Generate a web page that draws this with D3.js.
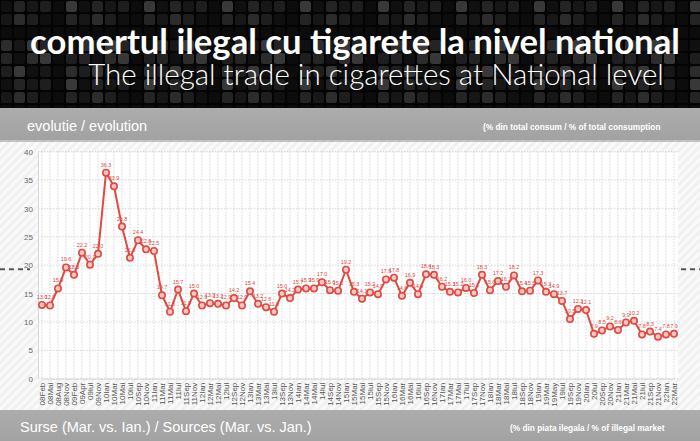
<!DOCTYPE html>
<html>
<head>
<meta charset="utf-8">
<script src="https://cdn.jsdelivr.net/npm/d3@7"></script>
<style>
  html, body { margin: 0; padding: 0; background: #fff; }
  svg { display: block; }
</style>
</head>
<body>
<svg id="chart" width="700" height="441"></svg>
<script>
// periods (YYMon, romanian month names as in the source)
var periods = ['08Feb','08Mai','08Aug','08Nov','09Feb','09Apr','09Iul','09Nov',
  '10Ian','10Mar','10Mai','10Iul','10Sep','10Nov','11Ian','11Mar','11Mai','11Iul',
  '11Sep','11Nov','12Ian','12Mar','12Mai','12Iul','12Sep','12Nov','13Ian','13Mar',
  '13Mai','13Iul','13Sep','13Nov','14Ian','14Mar','14Mai','14Iul','14Sep','14Nov',
  '15Ian','15Mar','15Mai','15Iul','15Sep','15Nov','16Ian','16Mar','16Mai','16Iul',
  '16Sep','16Nov','17Ian','17Mar','17Mai','17Iul','17Sep','17Nov','18Ian','18Mar',
  '18Mai','18Iul','18Sep','18Nov','19Ian','19Mar','19May','19Iul','19Sep','19Nov',
  '20Ian','20Iul','20Sep','20Nov','21Ian','21Mar','21Mai','21Iul','21Sep','21Nov',
  '22Ian','22Mar'];

// illegal share, % of total consumption
var share = [13.0,12.9,15.9,19.6,18.3,22.2,20.1,22.0,
  36.3,33.9,26.8,21.3,24.4,22.8,22.5,14.7,11.8,15.7,
  11.9,15.0,12.9,13.3,13.2,12.9,14.2,12.9,15.4,13.2,
  12.6,11.8,15.0,14.2,15.7,15.9,15.9,17.0,15.6,15.5,
  19.2,15.3,14.1,15.2,14.9,17.5,17.8,14.6,16.9,14.9,
  18.4,18.3,16.2,15.3,15.2,16.0,15.1,18.3,15.6,17.2,
  16.2,18.2,15.4,15.5,17.3,15.3,14.9,13.7,10.5,12.3,
  12.1,7.9,8.5,9.2,8.6,9.9,10.2,7.8,8.3,7.4,
  7.8,7.9];

var yTicks = [0, 5, 10, 15, 20, 25, 30, 35, 40];
var refLevel = 19.3;   // the dashed marks on both sides

var titleRo = 'comertul ilegal cu tigarete la nivel national';
var titleEn = 'The illegal trade in cigarettes at National level';
var bandTop = 'evolutie / evolution';
var bandTopNote = '(% din total consum / % of total consumption';
var bandBottom = 'Surse (Mar. vs. Ian.) / Sources (Mar. vs. Jan.)';
var bandBottomNote = '(% din piata ilegala / % of illegal market';

var W = 700, H = 441;
var svg = d3.select('#chart');
var defs = svg.append('defs');

// dark mosaic for the header
var cell = 13, n = 6;
var mos = defs.append('pattern')
  .attr('id', 'mosaic')
  .attr('patternUnits', 'userSpaceOnUse')
  .attr('width', cell * n).attr('height', cell * n);
mos.append('rect').attr('width', cell * n).attr('height', cell * n).attr('fill', '#040404');
var shades = ['#101010', '#1e1e1e', '#2c2c2c', '#171717', '#383838', '#242424', '#0c0c0c'];
d3.range(n).forEach(function(i) {
  d3.range(n).forEach(function(j) {
    mos.append('rect')
      .attr('x', i * cell + 1).attr('y', j * cell + 1)
      .attr('width', cell - 2).attr('height', cell - 2).attr('rx', 2.5)
      .attr('fill', shades[(i * 5 + j * 3 + i * j) % shades.length]);
  });
});

// light diagonal hatch behind the chart
var hatch = defs.append('pattern')
  .attr('id', 'hatch')
  .attr('patternUnits', 'userSpaceOnUse')
  .attr('width', 6).attr('height', 6)
  .attr('patternTransform', 'rotate(45)');
hatch.append('rect').attr('width', 6).attr('height', 6).attr('fill', '#f1f1f1');
hatch.append('rect').attr('width', 3).attr('height', 6).attr('fill', '#fafafa');

var bandGrad = defs.append('linearGradient')
  .attr('id', 'band').attr('x1', 0).attr('y1', 0).attr('x2', 0).attr('y2', 1);
bandGrad.append('stop').attr('offset', '0%').attr('stop-color', '#adadad');
bandGrad.append('stop').attr('offset', '100%').attr('stop-color', '#a2a2a2');

// header
svg.append('rect').attr('width', W).attr('height', 108).attr('fill', 'url(#mosaic)');

function fitText(sel, width) {
  var len = sel.node().getComputedTextLength();
  var fs = parseFloat(sel.attr('font-size'));
  sel.attr('font-size', fs * width / len);
}

var t1 = svg.append('text')
  .attr('x', 355).attr('y', 54)
  .attr('text-anchor', 'middle')
  .attr('font-family', 'Lato, "Open Sans", sans-serif')
  .attr('font-weight', 700)
  .attr('font-size', 28)
  .attr('fill', '#fff')
  .text(titleRo);
fitText(t1, 650);

var t2 = svg.append('text')
  .attr('x', 376).attr('y', 85)
  .attr('text-anchor', 'middle')
  .attr('font-family', 'Lato, "Open Sans", sans-serif')
  .attr('font-weight', 300)
  .attr('font-size', 26)
  .attr('fill', '#fff')
  .text(titleEn);
fitText(t2, 576);

// chart background
svg.append('rect').attr('y', 108).attr('width', W).attr('height', 303).attr('fill', 'url(#hatch)');

// grey bands
svg.append('rect').attr('y', 108).attr('width', W).attr('height', 32).attr('fill', 'url(#band)');
svg.append('rect').attr('y', 140).attr('width', W).attr('height', 2).attr('fill', '#8f8f8f').attr('opacity', 0.5);
svg.append('text')
  .attr('x', 27).attr('y', 131)
  .attr('font-family', '"Liberation Sans", Arial, sans-serif')
  .attr('font-size', 14.5).attr('fill', '#fff')
  .text(bandTop);
svg.append('text')
  .attr('x', 483).attr('y', 130)
  .attr('font-family', '"Liberation Sans", Arial, sans-serif')
  .attr('font-weight', 700)
  .attr('font-size', 8.3).attr('fill', '#fff')
  .text(bandTopNote);

svg.append('rect').attr('y', 410).attr('width', W).attr('height', 31).attr('fill', 'url(#band)');
svg.append('text')
  .attr('x', 20).attr('y', 432)
  .attr('font-family', '"Liberation Sans", Arial, sans-serif')
  .attr('font-size', 14.5).attr('fill', '#fff')
  .text(bandBottom);
svg.append('text')
  .attr('x', 510).attr('y', 431)
  .attr('font-family', '"Liberation Sans", Arial, sans-serif')
  .attr('font-weight', 700)
  .attr('font-size', 8.3).attr('fill', '#fff')
  .text(bandBottomNote);

// scales
var x = d3.scalePoint().domain(periods).range([42, 674]);
var y = d3.scaleLinear().domain([0, 40]).range([378.7, 151.7]);

// plot area
svg.append('rect')
  .attr('x', 38).attr('y', y(40))
  .attr('width', 678 - 38).attr('height', y(0) - y(40))
  .attr('fill', '#fff');

var grid = svg.append('g').attr('class', 'grid')
  .attr('stroke', '#cacaca').attr('stroke-width', 0.8)
  .attr('stroke-dasharray', '1.5,1.5');
grid.selectAll('line.v').data(periods).enter().append('line')
  .attr('class', 'v')
  .attr('x1', function(d) { return x(d); }).attr('x2', function(d) { return x(d); })
  .attr('y1', y(40)).attr('y2', y(0));
grid.selectAll('line.h').data(yTicks).enter().append('line')
  .attr('class', 'h')
  .attr('x1', 38).attr('x2', 678)
  .attr('y1', function(d) { return y(d); }).attr('y2', function(d) { return y(d); });

// axes
var yAxis = svg.append('g')
  .attr('transform', 'translate(38,0)')
  .call(d3.axisLeft(y).tickValues(yTicks).tickSize(0).tickPadding(5));
yAxis.select('.domain').attr('stroke', '#d8d8d8');
yAxis.selectAll('text')
  .attr('font-family', '"Liberation Sans", Arial, sans-serif')
  .attr('font-size', 8).attr('fill', '#666');

var xAxis = svg.append('g')
  .attr('transform', 'translate(0,' + y(0) + ')')
  .call(d3.axisBottom(x).tickSize(0).tickPadding(4));
xAxis.select('.domain').attr('stroke', '#d8d8d8');
xAxis.selectAll('text')
  .attr('font-family', '"Liberation Sans", Arial, sans-serif')
  .attr('font-size', 8).attr('fill', '#555')
  .attr('text-anchor', 'end')
  .attr('dy', '0.32em')
  .attr('transform', 'translate(-4,0) rotate(-90)')
  .attr('x', -4).attr('y', 4);

// reference dashes outside the plot
var refG = svg.append('g')
  .attr('stroke', '#555').attr('stroke-width', 2).attr('stroke-dasharray', '5,4');
refG.append('line').attr('x1', 0).attr('x2', 30)
  .attr('y1', y(refLevel)).attr('y2', y(refLevel));
refG.append('line').attr('x1', 681).attr('x2', 700)
  .attr('y1', y(refLevel)).attr('y2', y(refLevel));

// series
var pts = periods.map(function(p, i) { return { p: p, v: share[i] }; });
var red = '#e04a42';

svg.append('path')
  .datum(pts)
  .attr('fill', 'none')
  .attr('stroke', red)
  .attr('stroke-width', 2)
  .attr('stroke-linejoin', 'round')
  .attr('d', d3.line()
    .x(function(d) { return x(d.p); })
    .y(function(d) { return y(d.v); }));

svg.append('g').selectAll('circle')
  .data(pts).enter().append('circle')
  .attr('cx', function(d) { return x(d.p); })
  .attr('cy', function(d) { return y(d.v); })
  .attr('r', 3.2)
  .attr('fill', '#f6c7c3')
  .attr('stroke', red)
  .attr('stroke-width', 1.6);

svg.append('g').selectAll('text')
  .data(pts).enter().append('text')
  .attr('x', function(d) { return x(d.p); })
  .attr('y', function(d) { return y(d.v) - 6; })
  .attr('text-anchor', 'middle')
  .attr('font-family', '"Liberation Sans", Arial, sans-serif')
  .attr('font-size', 5.5)
  .attr('fill', red)
  .text(function(d) { return d.v.toFixed(1); });
</script>
</body>
</html>
